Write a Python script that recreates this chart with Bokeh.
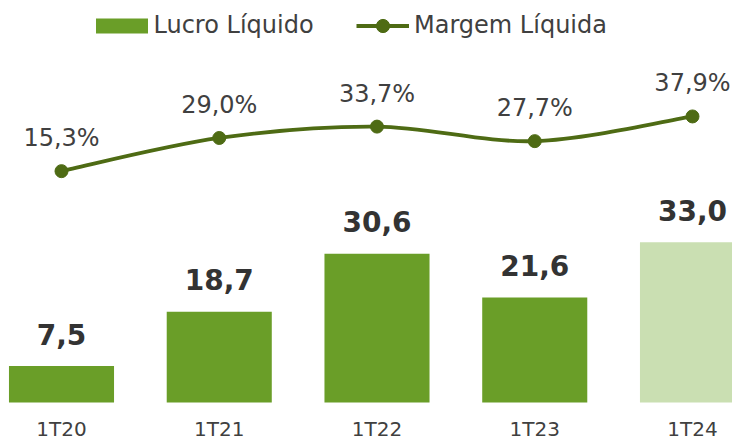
from bokeh.plotting import figure
from bokeh.models import ColumnDataSource, Range1d, Legend, LegendItem
from bokeh.core.properties import value
from bokeh.embed import file_html
from bokeh.resources import INLINE

categories = ["1T20", "1T21", "1T22", "1T23", "1T24"]
lucro = [7.5, 18.7, 30.6, 21.6, 33.0]
margem = [15.3, 29.0, 33.7, 27.7, 37.9]

GREEN = "#6A9E28"
LIGHT = "#CADFB2"
LINE = "#4E6B14"
DARK = "#333333"
GREY = "#404040"
FONT_NAME = "DejaVu Sans"
FONT = value(FONT_NAME)

n = len(categories)
xs = list(range(n))
fmt = lambda v: f"{v:.1f}".replace(".", ",")
src = ColumnDataSource(dict(
    x=xs, cat=categories, lucro=lucro, margem=margem,
    lucro_lbl=[fmt(v) for v in lucro],
    margem_lbl=[fmt(v) + "%" for v in margem],
    color=[GREEN if i < n - 1 else LIGHT for i in xs],
    zero=[0] * n,
))

p = figure(width=732, height=441, x_range=Range1d(-0.3867, 4.2536),
           y_range=Range1d(-8.02, 82.72), output_backend="svg",
           toolbar_location=None, min_border=0, x_axis_location=None,
           y_axis_location=None, outline_line_color=None)
p.grid.visible = False
p.extra_y_ranges = {"pct": Range1d(-96.4, 85.8)}

bars = p.vbar(x="x", top="lucro", bottom=0, width=0.666, fill_color="color",
              line_color=None, source=src)

# smooth line through the margin points (Catmull-Rom as Bezier segments)
P = list(zip(xs, margem))
bx0, by0, bx1, by1, cx0, cy0, cx1, cy1 = ([] for _ in range(8))
for i in range(n - 1):
    pm = P[max(i - 1, 0)]
    p0 = P[i]
    p1 = P[i + 1]
    p2 = P[min(i + 2, n - 1)]
    bx0.append(p0[0]); by0.append(p0[1])
    bx1.append(p1[0]); by1.append(p1[1])
    cx0.append(p0[0] + (p1[0] - pm[0]) / 6); cy0.append(p0[1] + (p1[1] - pm[1]) / 6)
    cx1.append(p1[0] - (p2[0] - p0[0]) / 6); cy1.append(p1[1] - (p2[1] - p0[1]) / 6)
bez = p.bezier(x0=bx0, y0=by0, x1=bx1, y1=by1, cx0=cx0, cy0=cy0, cx1=cx1, cy1=cy1,
               line_color=LINE, line_width=3.8, y_range_name="pct")
dots = p.scatter(x="x", y="margem", size=13, fill_color=LINE, line_color=LINE,
                 y_range_name="pct", source=src)

p.text(x="x", y="lucro", text="lucro_lbl", text_font=FONT, text_font_style="bold",
       text_font_size="28px", text_align="center", text_baseline="alphabetic",
       y_offset=-32, text_color=DARK, source=src)
p.text(x="x", y="margem", text="margem_lbl", text_font=FONT,
       text_font_size="24px", text_align="center", text_baseline="alphabetic",
       y_offset=-33, text_color=GREY, y_range_name="pct", source=src)
p.text(x="x", y="zero", text="cat", text_font=FONT,
       text_font_size="20px", text_align="center", text_baseline="alphabetic",
       y_offset=26.5, text_color=GREY, source=src)

common = dict(padding=0, margin=0, border_line_color=None, background_fill_alpha=0,
              label_text_font=FONT_NAME, label_text_font_size="24px",
              label_text_color=GREY, label_height=33, spacing=0)
leg1 = Legend(items=[LegendItem(label="Lucro Líquido", renderers=[bars])],
              location=(88.5, 399.5), glyph_width=65, glyph_height=19,
              label_standoff=0, **common)
leg2 = Legend(items=[LegendItem(label="Margem Líquida", renderers=[bez, dots])],
              location=(356, 399.5), glyph_width=53, glyph_height=33,
              label_standoff=5, **common)
p.add_layout(leg1)
p.add_layout(leg2)

open("out.html", "w").write(file_html(p, INLINE))
